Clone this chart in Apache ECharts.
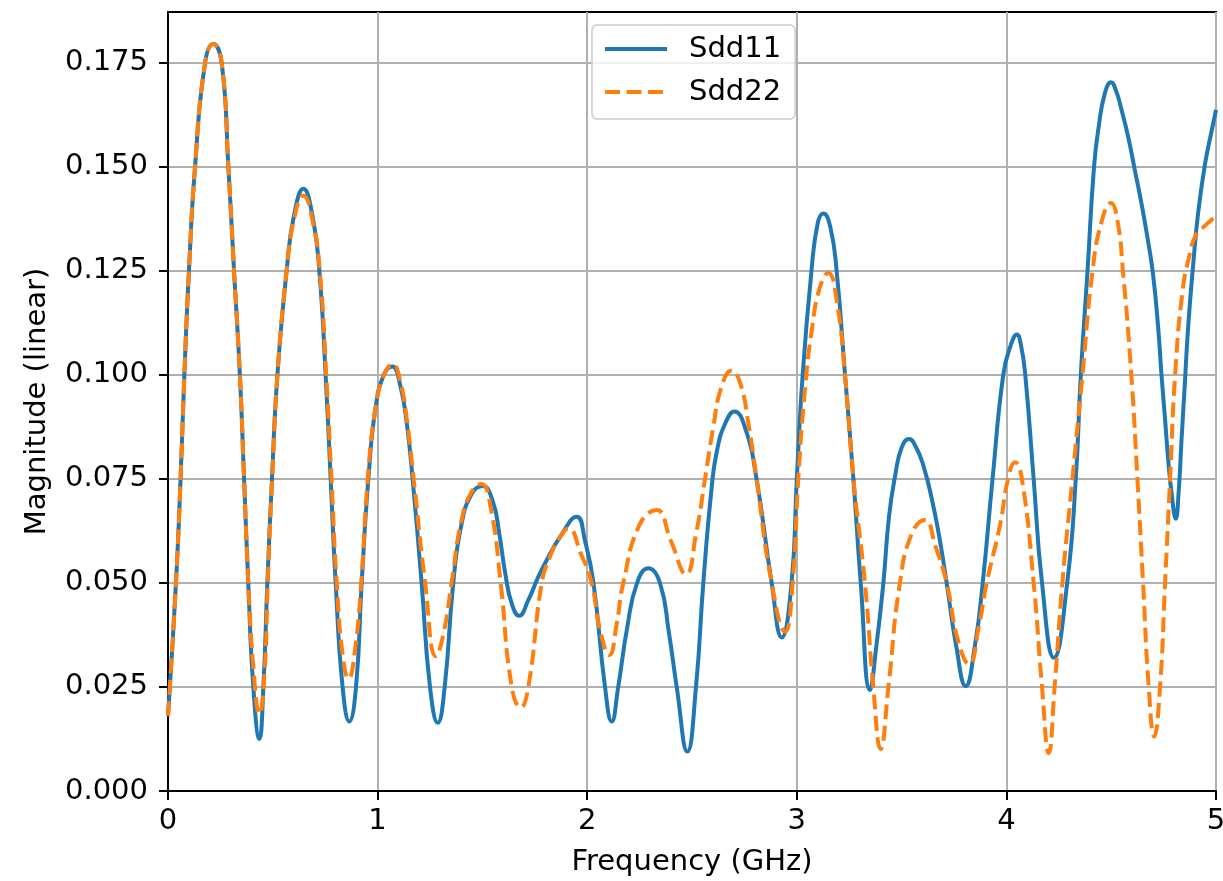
<!DOCTYPE html>
<html>
<head>
<meta charset="utf-8">
<script src="https://cdn.jsdelivr.net/npm/echarts@6/dist/echarts.min.js"></script>
<style>
html,body{margin:0;padding:0;background:#fff;}
#chart{width:1223px;height:881px;}
</style>
</head>
<body>
<div id="chart"></div>
<script>
// Frequency (GHz) and linear magnitude
const sdd11Freq = [0, 0.038, 0.06, 0.078, 0.10, 0.129, 0.177, 0.216, 0.256, 0.288, 0.315, 0.343, 0.363, 0.383, 0.407, 0.436, 0.455, 0.474, 0.496, 0.522, 0.566, 0.60, 0.646, 0.69, 0.722, 0.752, 0.776, 0.80, 0.833, 0.865, 0.897, 0.924, 0.956, 0.99, 1.03, 1.07, 1.11, 1.14, 1.167, 1.21, 1.25, 1.287, 1.32, 1.361, 1.40, 1.45, 1.501, 1.55, 1.58, 1.61, 1.64, 1.675, 1.72, 1.767, 1.807, 1.87, 1.95, 1.99, 2.03, 2.085, 2.117, 2.148, 2.19, 2.238, 2.292, 2.347, 2.39, 2.427, 2.478, 2.519, 2.554, 2.594, 2.62, 2.66, 2.702, 2.755, 2.808, 2.88, 2.928, 2.975, 3.0, 3.028, 3.07, 3.10, 3.127, 3.16, 3.19, 3.23, 3.27, 3.305, 3.349, 3.38, 3.413, 3.44, 3.47, 3.50, 3.535, 3.57, 3.605, 3.645, 3.68, 3.715, 3.76, 3.806, 3.85, 3.887, 3.934, 3.985, 4.02, 4.05, 4.07, 4.09, 4.13, 4.17, 4.227, 4.29, 4.331, 4.355, 4.387, 4.418, 4.44, 4.47, 4.499, 4.525, 4.546, 4.58, 4.612, 4.644, 4.676, 4.70, 4.724, 4.74, 4.757, 4.773, 4.789, 4.808, 4.822, 4.835, 4.851, 4.867, 4.891, 4.915, 4.947, 4.979, 5.0];
const sdd11Mag  = [0.018, 0.05, 0.075, 0.1, 0.125, 0.15, 0.175, 0.1795, 0.175, 0.15, 0.125, 0.1, 0.075, 0.05, 0.025, 0.0125, 0.025, 0.05, 0.075, 0.1, 0.125, 0.138, 0.1447, 0.138, 0.125, 0.1, 0.075, 0.05, 0.025, 0.0167, 0.025, 0.05, 0.075, 0.092, 0.1, 0.102, 0.097, 0.088, 0.075, 0.05, 0.025, 0.0164, 0.025, 0.05, 0.064, 0.0715, 0.0733, 0.0695, 0.062, 0.052, 0.045, 0.0421, 0.046, 0.0515, 0.0555, 0.061, 0.0659, 0.06, 0.05, 0.025, 0.0167, 0.025, 0.039, 0.05, 0.0535, 0.05, 0.038, 0.025, 0.0095, 0.025, 0.05, 0.073, 0.082, 0.0885, 0.0912, 0.087, 0.075, 0.05, 0.0369, 0.05, 0.075, 0.1, 0.125, 0.1365, 0.1388, 0.1355, 0.125, 0.1, 0.075, 0.05, 0.0243, 0.035, 0.05, 0.066, 0.076, 0.0825, 0.0846, 0.0825, 0.078, 0.07, 0.061, 0.05, 0.035, 0.0252, 0.035, 0.05, 0.075, 0.1, 0.107, 0.1097, 0.107, 0.1, 0.075, 0.05, 0.032, 0.05, 0.075, 0.1, 0.125, 0.15, 0.1595, 0.1677, 0.1703, 0.168, 0.1643, 0.1574, 0.1494, 0.1413, 0.1321, 0.124, 0.1114, 0.1, 0.0893, 0.079, 0.0712, 0.0654, 0.072, 0.0839, 0.0976, 0.1114, 0.1264, 0.139, 0.1505, 0.1586, 0.1637];

const sdd22Freq = [0, 0.038, 0.06, 0.078, 0.10, 0.129, 0.177, 0.216, 0.256, 0.288, 0.315, 0.343, 0.363, 0.383, 0.41, 0.436, 0.46, 0.476, 0.497, 0.522, 0.566, 0.60, 0.646, 0.69, 0.724, 0.755, 0.78, 0.805, 0.835, 0.862, 0.89, 0.922, 0.953, 0.99, 1.03, 1.072, 1.11, 1.14, 1.172, 1.227, 1.279, 1.315, 1.353, 1.40, 1.45, 1.495, 1.54, 1.587, 1.64, 1.683, 1.719, 1.783, 1.82, 1.87, 1.91, 1.97, 2.021, 2.06, 2.106, 2.14, 2.172, 2.25, 2.331, 2.40, 2.471, 2.52, 2.562, 2.60, 2.64, 2.689, 2.73, 2.77, 2.808, 2.88, 2.944, 2.98, 3.007, 3.04, 3.075, 3.11, 3.15, 3.19, 3.23, 3.27, 3.325, 3.365, 3.40, 3.437, 3.492, 3.55, 3.612, 3.66, 3.715, 3.77, 3.822, 3.87, 3.906, 3.97, 4.008, 4.041, 4.074, 4.13, 4.17, 4.202, 4.23, 4.267, 4.315, 4.363, 4.411, 4.455, 4.499, 4.53, 4.556, 4.596, 4.625, 4.652, 4.679, 4.705, 4.733, 4.757, 4.781, 4.805, 4.84, 4.87, 4.901, 4.94, 4.98, 5.0];
const sdd22Mag  = [0.018, 0.05, 0.075, 0.1, 0.125, 0.15, 0.175, 0.1795, 0.175, 0.15, 0.125, 0.1, 0.075, 0.05, 0.028, 0.0185, 0.028, 0.05, 0.075, 0.1, 0.125, 0.137, 0.1431, 0.137, 0.125, 0.1, 0.075, 0.05, 0.032, 0.027, 0.033, 0.05, 0.075, 0.092, 0.1, 0.1025, 0.098, 0.089, 0.075, 0.05, 0.0324, 0.038, 0.05, 0.065, 0.072, 0.0738, 0.068, 0.05, 0.025, 0.0201, 0.025, 0.05, 0.056, 0.061, 0.0631, 0.057, 0.05, 0.039, 0.0327, 0.04, 0.05, 0.064, 0.0675, 0.06, 0.0521, 0.062, 0.075, 0.087, 0.097, 0.101, 0.098, 0.088, 0.075, 0.05, 0.0383, 0.05, 0.075, 0.097, 0.112, 0.121, 0.1245, 0.118, 0.1, 0.075, 0.05, 0.025, 0.0101, 0.025, 0.05, 0.062, 0.0651, 0.059, 0.05, 0.036, 0.0305, 0.04, 0.05, 0.064, 0.075, 0.079, 0.075, 0.05, 0.025, 0.0091, 0.025, 0.05, 0.075, 0.1, 0.125, 0.137, 0.1413, 0.137, 0.125, 0.1, 0.075, 0.05, 0.025, 0.0131, 0.025, 0.05, 0.075, 0.1, 0.12, 0.128, 0.1333, 0.1355, 0.1373, 0.138];

const yTicks = [0, 0.025, 0.05, 0.075, 0.1, 0.125, 0.15, 0.175];
const xTicks = [0, 1, 2, 3, 4, 5];
const seriesNames = ['Sdd11', 'Sdd22'];

const zip = (a, b) => a.map((v, i) => [v, b[i]]);
const FONT = 'DejaVu Sans';
const FS = 29;
const chart = echarts.init(document.getElementById('chart'), null, {renderer: 'canvas'});
chart.setOption({
  animation: false,
  backgroundColor: '#fff',
  grid: {left: 168, right: 7, top: 12, bottom: 90, outerBoundsMode: 'none', containLabel: false,
         show: true, borderColor: '#000', borderWidth: 2, backgroundColor: 'transparent'},
  legend: {
    data: seriesNames,
    orient: 'vertical',
    left: 592, top: 25,
    padding: [9, 14, 12, 11],
    itemWidth: 62, itemHeight: 14, itemGap: 13,
    backgroundColor: 'rgba(255,255,255,0.8)',
    borderColor: '#cccccc', borderWidth: 1.5, borderRadius: 5,
    itemStyle: {color: 'transparent', borderColor: 'transparent', borderWidth: 0, opacity: 0},
    lineStyle: {width: 4},
    textStyle: {fontFamily: FONT, fontSize: FS, color: '#000', lineHeight: 30, padding: [0, 0, 0, 17]}
  },
  xAxis: {
    type: 'value', min: 0, max: 5, interval: 1,
    name: 'Frequency (GHz)', nameLocation: 'middle', nameGap: 57,
    nameTextStyle: {fontFamily: FONT, fontSize: FS, color: '#000'},
    axisLine: {show: true, onZero: false, lineStyle: {color: '#000', width: 2}},
    axisTick: {show: true, length: 9, lineStyle: {color: '#000', width: 2}, customValues: xTicks},
    axisLabel: {fontFamily: FONT, fontSize: FS, color: '#000', margin: 16, customValues: xTicks, formatter: v => String(v)},
    splitLine: {show: true, lineStyle: {color: '#b0b0b0', width: 2}}
  },
  yAxis: {
    type: 'value', min: 0, max: 0.1872, interval: 0.025,
    name: 'Magnitude (linear)', nameLocation: 'middle', nameGap: 116, nameRotate: 90,
    nameTextStyle: {fontFamily: FONT, fontSize: FS, color: '#000'},
    axisLine: {show: true, onZero: false, lineStyle: {color: '#000', width: 2}},
    axisTick: {show: true, length: 9, lineStyle: {color: '#000', width: 2}, customValues: yTicks},
    axisLabel: {fontFamily: FONT, fontSize: FS, color: '#000', margin: 20, customValues: yTicks, formatter: v => v.toFixed(3)},
    splitLine: {show: true, lineStyle: {color: '#b0b0b0', width: 2}}
  },
  series: [
    {name: seriesNames[0], type: 'line', data: zip(sdd11Freq, sdd11Mag), smooth: 0.5, symbol: 'none',
     lineStyle: {color: '#1f77b4', width: 4}, itemStyle: {color: '#1f77b4'}, z: 2},
    {name: seriesNames[1], type: 'line', data: zip(sdd22Freq, sdd22Mag), smooth: 0.5, symbol: 'none',
     lineStyle: {color: '#ff7f0e', width: 4, type: [15, 6.5]}, itemStyle: {color: '#ff7f0e'}, z: 3}
  ]
});
</script>
</body>
</html>
